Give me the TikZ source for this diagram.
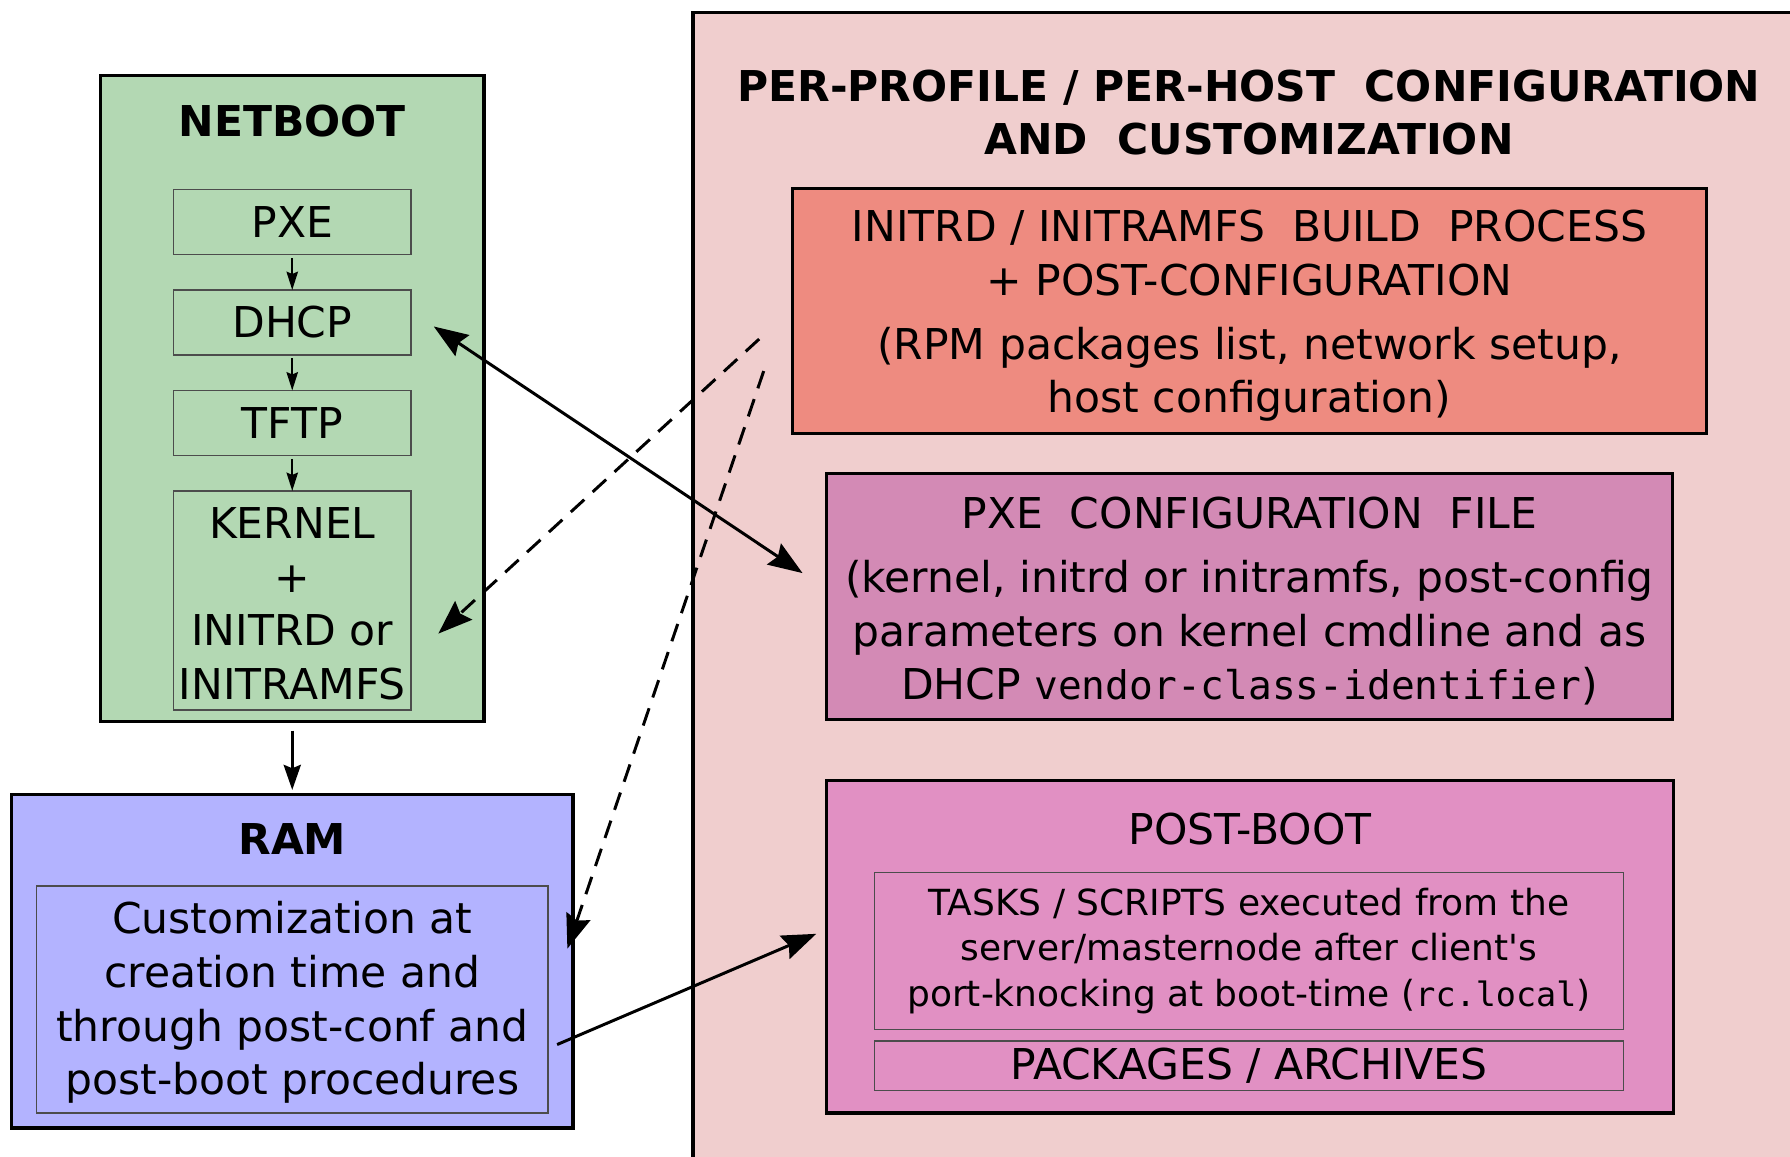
\documentclass[tikz,border=0pt]{standalone}
\usepackage{fontspec}
\setmainfont{DejaVu Sans}
\setmonofont{DejaVu Sans Mono}[Scale=0.93]
\usepackage{tikz}
\usetikzlibrary{arrows.meta,positioning}
\definecolor{custompink}{RGB}{240,206,206}
\definecolor{initred}{RGB}{238,139,128}
\definecolor{pxeviolet}{RGB}{211,138,181}
\definecolor{bootpink}{RGB}{225,144,195}
\definecolor{netgreen}{RGB}{179,216,179}
\definecolor{ramblue}{RGB}{179,179,255}
\newcommand{\bigtext}{\fontsize{18.6}{23.5}\selectfont}
\newcommand{\smalltext}{\fontsize{15.75}{20}\selectfont}
\newcommand{\topstrut}[1]{\rule{0pt}{#1}}

\begin{document}
\begin{tikzpicture}[x=0.5pt,y=-0.5pt,>={Stealth[length=15pt,width=11pt,inset=2pt]},
                    font=\bigtext]
  \tikzstyle{outer}=[rectangle,draw=black,line width=1.4pt,inner sep=0pt,outer sep=0pt,align=center]
  \tikzstyle{inner}=[rectangle,draw=black!70,line width=0.6pt,inner sep=0pt,outer sep=0pt,align=center]
  \tikzstyle{stepbox}=[inner,minimum width=104pt,minimum height=28.5pt]
  \tikzstyle{title}=[font=\bigtext\bfseries,align=center]
  \tikzstyle{link}=[->,line width=1.3pt]
  \tikzstyle{small link}=[->,line width=0.9pt,>={Stealth[length=8pt,width=5pt,inset=1pt]},shorten <=1.5pt]

  \useasboundingbox (0,0) rectangle (1568,1013);

  % configuration side
  \node[outer,fill=custompink,minimum width=490pt,minimum height=510pt,anchor=north west] (custom) at (607,11) {};
  \node[title] (customtitle) at (1094,98.5) {PER-PROFILE / PER-HOST\ \ CONFIGURATION\\AND\ \ CUSTOMIZATION};
  \node[outer,fill=initred,minimum width=400.5pt,minimum height=107.5pt] (initrd) at (1094.5,272.5)
    {\topstrut{18pt}INITRD / INITRAMFS\ \ BUILD\ \ PROCESS\\+ POST-CONFIGURATION\\[4.5pt](RPM packages list, network setup,\\host configuration)};
  \node[outer,fill=pxeviolet,minimum width=370.5pt,minimum height=107.5pt] (pxecfg) at (1094.5,522.5)
    {\topstrut{18pt}PXE\ \ CONFIGURATION\ \ FILE\\[4.5pt](kernel, initrd or initramfs, post-config\\parameters on kernel cmdline and as\\DHCP \texttt{vendor-class-identifier})};
  \node[outer,fill=bootpink,minimum width=371pt,minimum height=145.5pt] (postboot) at (1095,829.5) {};
  \node (postboottitle) at (1095,726) {POST-BOOT};
  \node[inner,minimum width=328pt,minimum height=69pt,font=\smalltext] (tasks) at (1094,833)
    {TASKS / SCRIPTS executed from the\\server/masternode after client\textquotesingle s\\port-knocking at boot-time (\texttt{rc.local})};
  \node[inner,minimum width=328pt,minimum height=21.5pt] (packages) at (1094,933.5) {PACKAGES / ARCHIVES};

  % netboot chain
  \node[outer,fill=netgreen,minimum width=168pt,minimum height=283pt] (netboot) at (256,349) {};
  \node[title] (netboottitle) at (256,106) {NETBOOT};
  \node[stepbox] (pxe) at (256,194.5) {PXE};
  \node[stepbox] (dhcp) [below=15.5pt of pxe] {DHCP};
  \node[stepbox] (tftp) [below=15.5pt of dhcp] {TFTP};
  \node[stepbox,minimum height=96pt] (kernel) [below=15.5pt of tftp] {\topstrut{16.5pt}KERNEL\\+\\INITRD or\\INITRAMFS};

  % ram
  \node[outer,fill=ramblue,minimum width=246pt,minimum height=146pt] (ram) at (256,842) {};
  \node[title] (ramtitle) at (256,735) {RAM};
  \node[inner,minimum width=224pt,minimum height=99.5pt] (raminner) at (256,875.5)
    {\topstrut{17pt}Customization at\\creation time and\\through post-conf and\\post-boot procedures};

  \draw[small link] (pxe) -- (dhcp);
  \draw[small link] (dhcp) -- (tftp);
  \draw[small link] (tftp) -- (kernel);
  \draw[link,>={Stealth[length=11pt,width=7.5pt,inset=1.5pt]},shorten <=4pt,shorten >=2pt] (netboot) -- (ram);
  \draw[link,<->] ([shift={(20,3.5)}]dhcp.east) -- ([shift={(-21,-20.5)}]pxecfg.west);
  \draw[link,dash pattern=on 8pt off 5pt] ([shift={(-29,24.5)}]initrd.west) -- ([shift={(24,29)}]kernel.east);
  \draw[link,dash pattern=on 8pt off 5pt] ([shift={(-25,52.5)}]initrd.west) -- ([shift={(-5,-11)}]ram.east);
  \draw[link] ([shift={(8,39.5)}]raminner.east) -- ([shift={(-9,-11.5)}]postboot.west);
\end{tikzpicture}
\end{document}
